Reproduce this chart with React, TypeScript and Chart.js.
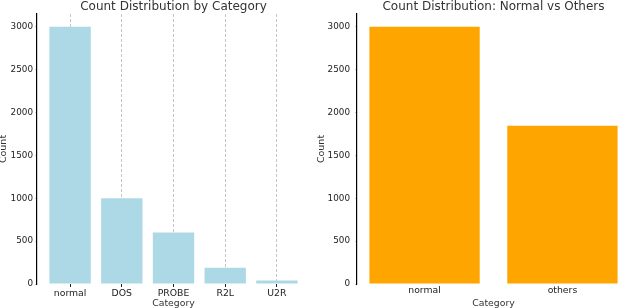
import React, { useEffect, useRef } from "react";
import { Chart, registerables } from "chart.js";

Chart.register(...registerables);

const categories = ["normal", "DOS", "PROBE", "R2L", "U2R"];
const categoryCounts = [3000, 1000, 600, 190, 40];
const binaryCategories = ["normal", "others"];
const binaryCounts = [3000, 1845];
const yTicks = [0, 500, 1000, 1500, 2000, 2500, 3000];
const yMax = 3150;

const FONT = "'DejaVu Sans', sans-serif";

const titlePlugin = {
  id: "customTitle",
  afterDraw(chart: any, _args: any, opts: any) {
    const { ctx, chartArea } = chart;
    ctx.save();
    ctx.font = `12px ${FONT}`;
    ctx.fillStyle = "#333333";
    ctx.textAlign = "center";
    ctx.textBaseline = "alphabetic";
    ctx.fillText(opts.text, (chartArea.left + chartArea.right) / 2, opts.y);
    ctx.restore();
  },
};

type Opt = { yWidth: number; padRight: number; grid: boolean; yLabelPad: number; yTitlePad: number };

function makeConfig(labels: string[], values: number[], color: string, title: string, opt: Opt): any {
  const n = labels.length;
  const margin = (n - 1 + 0.8) * 0.05;
  return {
    type: "bar",
    data: {
      datasets: [
        {
          data: values.map((v, i) => ({ x: i, y: v })),
          backgroundColor: color,
          borderWidth: 0,
          categoryPercentage: 1,
          barPercentage: 0.8,
        },
      ],
    },
    plugins: [titlePlugin],
    options: {
      responsive: false,
      animation: false,
      layout: { padding: { top: 14, right: opt.padRight, left: 0, bottom: 0 } },
      plugins: {
        legend: { display: false },
        tooltip: { enabled: false },
        customTitle: { text: title, y: 10 },
      },
      scales: {
        x: {
          type: "linear",
          offset: false,
          min: -0.4 - margin,
          max: n - 1 + 0.4 + margin,
          afterBuildTicks: (scale: any) => {
            scale.ticks = labels.map((_, i) => ({ value: i }));
          },
          afterFit: (scale: any) => {
            scale.height = 24;
          },
          ticks: {
            autoSkip: false,
            maxRotation: 0,
            padding: 1,
            color: "#222222",
            font: { family: FONT, size: 9.3 },
            callback: (v: number) => labels[v],
          },
          grid: {
            display: true,
            offset: false,
            drawOnChartArea: opt.grid,
            drawTicks: opt.grid,
            color: "#c4c4c4",
            tickColor: "#222222",
            tickLength: 3,
            tickBorderDash: [],
            lineWidth: 1,
          },
          border: { display: false, dash: [3, 2] },
          title: {
            display: true,
            text: "Category",
            color: "#333333",
            font: { family: FONT, size: 9.3, lineHeight: 1 },
            padding: 0,
          },
        },
        y: {
          type: "linear",
          min: 0,
          max: yMax,
          afterBuildTicks: (scale: any) => {
            scale.ticks = yTicks.map((v) => ({ value: v }));
          },
          afterFit: (scale: any) => {
            scale.width = opt.yWidth;
          },
          ticks: {
            padding: opt.yLabelPad,
            color: "#222222",
            font: { family: FONT, size: 8.8 },
            callback: (v: number) => String(v),
          },
          grid: {
            display: true,
            drawOnChartArea: false,
            drawTicks: true,
            tickLength: 2,
            color: "#cccccc",
          },
          border: { display: true, color: "#000000", width: 1.2 },
          title: {
            display: true,
            text: "Count",
            color: "#333333",
            font: { family: FONT, size: 9.5, lineHeight: 1 },
            padding: { top: opt.yTitlePad, bottom: 0 },
          },
        },
      },
    },
  };
}

function BarChart(props: {
  labels: string[];
  values: number[];
  color: string;
  title: string;
  left: number;
  opt: Opt;
}) {
  const ref = useRef<HTMLCanvasElement>(null);
  useEffect(() => {
    if (!ref.current) return;
    const cfg = makeConfig(props.labels, props.values, props.color, props.title, props.opt);
    const chart = new Chart(ref.current, cfg);
    return () => chart.destroy();
  }, []);
  return (
    <canvas
      ref={ref}
      width={316}
      height={308}
      style={{ position: "absolute", left: props.left, top: 0, width: 316, height: 308, display: "block" }}
    />
  );
}

export default function App() {
  return (
    <div style={{ position: "absolute", left: 0, top: 0, width: 632, height: 308, background: "#ffffff" }}>
      <BarChart
        labels={categories}
        values={categoryCounts}
        color="#ADD8E6"
        title="Count Distribution by Category"
        left={0}
        opt={{ yWidth: 37, padRight: 6, grid: true, yLabelPad: 2, yTitlePad: -1 }}
      />
      <BarChart
        labels={binaryCategories}
        values={binaryCounts}
        color="#FFA500"
        title="Count Distribution: Normal vs Others"
        left={316}
        opt={{ yWidth: 41, padRight: 2, grid: false, yLabelPad: 5, yTitlePad: 1 }}
      />
    </div>
  );
}
